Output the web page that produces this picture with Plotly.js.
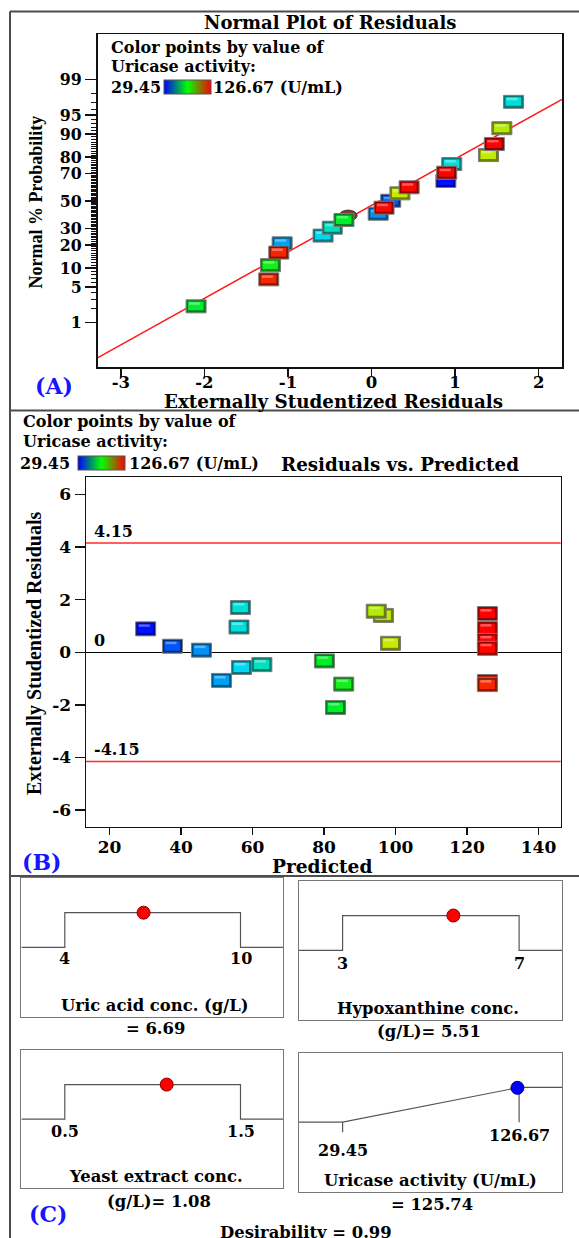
<!DOCTYPE html>
<html>
<head>
<meta charset="utf-8">
<script src="https://cdn.plot.ly/plotly-3.0.1.min.js"></script>
<style>html,body{margin:0;padding:0;background:#fff;}#chart{width:579px;height:1238px;}</style>
</head>
<body>
<div id="chart"></div>
<script>
// ---------------- DATA ----------------
// Runs (sorted by residual)
const predicted = [83.2, 125.7, 85.5, 125.7, 51.3, 56.9, 62.6, 80.1, 45.7, 125.7, 37.6, 98.6, 125.7, 30.1, 125.7, 56.2, 96.6, 125.7, 94.6, 56.6];
const residual  = [-2.10, -1.23, -1.21, -1.11, -1.07, -0.58, -0.47, -0.33, 0.08, 0.15, 0.23, 0.34, 0.45, 0.89, 0.90, 0.96, 1.40, 1.47, 1.56, 1.70];
const normProb  = [2.2, 6.7, 11.0, 16.2, 20.9, 25.4, 30.5, 35.8, 40.4, 44.9, 50.2, 55.8, 60.3, 64.9, 70.6, 76.0, 81.0, 86.2, 91.8, 97.1];
const activity  = [78.2, 122.1, 82.0, 122.4, 48.1, 55.1, 61.2, 79.1, 45.9, 126.1, 38.3, 99.6, 126.3, 29.45, 126.5, 57.8, 99.0, 126.67, 97.5, 58.5];
const actMin = 29.45, actMax = 126.67;
// extra circle marker in normal plot
const circleResid = [-0.28];
const circleProb  = [39];
// normal-plot reference line (residual, % probability)
const lineResid = [-3.28, 2.28];
const lineProb  = [0.135, 97.4];
// axis ticks
const probTicks  = [1, 5, 10, 20, 30, 50, 70, 80, 90, 95, 99];
const residTicks = [-3, -2, -1, 0, 1, 2];
const predTicks  = [20, 40, 60, 80, 100, 120, 140];
const studTicks  = [-6, -4, -2, 0, 2, 4, 6];
const limitVals   = [4.15, -4.15];
const limitLabels = ['4.15', '-4.15'];
// desirability panel
const factorNames = ['Uric acid conc. (g/L)', 'Hypoxanthine conc.', 'Yeast extract conc.'];
const factorValueText = ['= 6.69', '(g/L)= 5.51', '(g/L)= 1.08'];
const factorLow  = [4, 3, 0.5];
const factorHigh = [10, 7, 1.5];
const factorLowText  = ['4', '3', '0.5'];
const factorHighText = ['10', '7', '1.5'];
const factorOpt  = [6.69, 5.51, 1.08];
const respName = 'Uricase activity (U/mL)';
const respValueText = '= 125.74';
const respLow = 29.45, respHigh = 126.67, respOpt = 125.74, respDes = 0.99;
const desirabilityText = 'Desirability = 0.99';

// ---------------- HELPERS ----------------
const W = 579, H = 1238;
const X = v => v / W, Y = v => 1 - v / H;
function probit(p) {
  const a=[-3.969683028665376e+01,2.209460984245205e+02,-2.759285104469687e+02,1.383577518672690e+02,-3.066479806614716e+01,2.506628277459239e+00];
  const b=[-5.447609879822406e+01,1.615858368580409e+02,-1.556989798598866e+02,6.680131188771972e+01,-1.328068155288572e+01];
  const c=[-7.784894002430293e-03,-3.223964580411365e-01,-2.400758277161838e+00,-2.549732539343734e+00,4.374664141464968e+00,2.938163982698783e+00];
  const d=[7.784695709041462e-03,3.224671290700398e-01,2.445134137142996e+00,3.754408661907416e+00];
  const pl=0.02425, ph=1-pl; let q,r;
  if(p<pl){q=Math.sqrt(-2*Math.log(p));return (((((c[0]*q+c[1])*q+c[2])*q+c[3])*q+c[4])*q+c[5])/((((d[0]*q+d[1])*q+d[2])*q+d[3])*q+1);}
  if(p<=ph){q=p-0.5;r=q*q;return (((((a[0]*r+a[1])*r+a[2])*r+a[3])*r+a[4])*r+a[5])*q/(((((b[0]*r+b[1])*r+b[2])*r+b[3])*r+b[4])*r+1);}
  q=Math.sqrt(-2*Math.log(1-p));return -(((((c[0]*q+c[1])*q+c[2])*q+c[3])*q+c[4])*q+c[5])/((((d[0]*q+d[1])*q+d[2])*q+d[3])*q+1);
}
const pz = p => probit(p / 100);
const SERIF = '"DejaVu Serif", serif';
const TIMES = '"Liberation Serif", "Times New Roman", serif';
const BLUE = '#1515ff';
function f(size, color, fam) { return {family: fam || SERIF, size: size, color: color || '#000', weight: 'bold'}; }

// palette used for the lit 3D squares
const litScale = [[0,'#0010ff'],[0.27,'#00dcf0'],[0.52,'#00ee20'],[0.72,'#c8ea00'],[1,'#ff0000']];
const barScale = [[0,'#0000ff'],[0.5,'#00ff00'],[1,'#ff0000']];
function hex2rgb(h){h=h.replace('#','');return [parseInt(h.substr(0,2),16),parseInt(h.substr(2,2),16),parseInt(h.substr(4,2),16)];}
function rgbStr(c){return 'rgb('+c.map(v=>Math.max(0,Math.min(255,Math.round(v)))).join(',')+')';}
function colorAt(v){
  const t = Math.max(0, Math.min(1, (v - actMin) / (actMax - actMin)));
  for (let i = 1; i < litScale.length; i++) {
    if (t <= litScale[i][0]) {
      const t0 = litScale[i-1][0], t1 = litScale[i][0], u = (t - t0) / (t1 - t0);
      const c0 = hex2rgb(litScale[i-1][1]), c1 = hex2rgb(litScale[i][1]);
      return c0.map((v0, k) => v0 + (c1[k] - v0) * u);
    }
  }
  return hex2rgb(litScale[litScale.length-1][1]);
}
function shade(c, k){return c.map(v=>v*k);}
function lighten(c, k){return c.map(v=>v+(255-v)*k);}

function rectShapes(xref, yref, x, y, rgb, hw, hh) {
  const base = {type:'rect', xref:xref, yref:yref, xsizemode:'pixel', ysizemode:'pixel', xanchor:x, yanchor:y};
  return [
    Object.assign({}, base, {x0:-hw, x1:hw, y0:-hh, y1:hh, fillcolor:rgbStr(shade(rgb,0.55)), line:{color:'#7a7a7a', width:1}}),
    Object.assign({}, base, {x0:-hw+2, x1:hw-2.5, y0:-hh+2.5, y1:hh-2, fillcolor:rgbStr(rgb), line:{width:0}}),
    Object.assign({}, base, {x0:-hw+3, x1:hw-6, y0:hh-5, y1:hh-2.5, fillcolor:rgbStr(lighten(rgb,0.35)), line:{width:0}})
  ];
}

// drawing order: non-red first, then reds from high residual to low
const idx = residual.map((_, i) => i);
const nonRed = idx.filter(i => activity[i] < 110);
const reds = idx.filter(i => activity[i] >= 110).sort((a, b) => residual[b] - residual[a]);
const order = nonRed.concat(reds);

// ---------------- SHAPES ----------------
const shapes = [];
const frameColor = '#4d4d4d';
shapes.push({type:'line', xref:'paper', yref:'paper', x0:X(10), x1:X(579), y0:Y(11.5), y1:Y(11.5), line:{color:frameColor, width:2}});
shapes.push({type:'line', xref:'paper', yref:'paper', x0:X(10), x1:X(10), y0:Y(11.5), y1:Y(1238), line:{color:frameColor, width:2}});
shapes.push({type:'line', xref:'paper', yref:'paper', x0:X(10), x1:X(579), y0:Y(410.5), y1:Y(410.5), line:{color:frameColor, width:2}});
shapes.push({type:'line', xref:'paper', yref:'paper', x0:X(10), x1:X(579), y0:Y(876), y1:Y(876), line:{color:frameColor, width:2}});

// limit lines in B
limitVals.forEach(v => shapes.push({type:'line', xref:'x2 domain', yref:'y2', x0:0, x1:1, y0:v, y1:v, line:{color:'#ff2a2a', width:1.5}}));

// circle marker in A
circleResid.forEach((r, i) => {
  shapes.push({type:'circle', xref:'x', yref:'y', xsizemode:'pixel', ysizemode:'pixel', xanchor:r, yanchor:pz(circleProb[i]), x0:-9, x1:9, y0:-5.5, y1:5.5, fillcolor:'#7a3b3b', line:{color:'#5a2a2a', width:1}});
});
// squares in A and B
order.forEach(i => { rectShapes('x', 'y', residual[i], pz(normProb[i]), colorAt(activity[i]), 10, 6.5).forEach(s => shapes.push(s)); });
order.forEach(i => { rectShapes('x2', 'y2', predicted[i], residual[i], colorAt(activity[i]), 10, 7).forEach(s => shapes.push(s)); });

// ---------------- AXES ----------------
const axBase = {showgrid:false, zeroline:false, showline:true, linecolor:'#111', linewidth:1.5, mirror:true,
  ticks:'outside', tickcolor:'#111', tickwidth:1.5, tickfont:f(17), tickmode:'array', fixedrange:true};
const minorProbs = [];
for (let p = 1; p <= 99; p++) if (probTicks.indexOf(p) < 0) minorProbs.push(p);

const layout = {
  width: W, height: H, margin: {l:0, r:0, t:0, b:0, autoexpand:false},
  paper_bgcolor:'#fff', plot_bgcolor:'rgba(0,0,0,0)', showlegend:false,
  xaxis: Object.assign({}, axBase, {domain:[X(97.5), X(562)], range:[-3.28, 2.28], anchor:'y',
    tickvals:residTicks, ticktext:residTicks.map(String), ticklen:8, ticklabelstandoff:-8, tickfont:f(16.5)}),
  yaxis: Object.assign({}, axBase, {domain:[Y(367), Y(34)], range:[-3.174, 3.193], anchor:'x',
    tickvals:probTicks.map(pz), ticktext:probTicks.map(String), ticklen:11, tickfont:f(15.8),
    minor:{tickmode:'array', tickvals:minorProbs.map(pz), ticks:'outside', ticklen:5, tickcolor:'#111', tickwidth:1}}),
  xaxis2: Object.assign({}, axBase, {domain:[X(86), X(560.7)], range:[13.4, 146.2], anchor:'y2',
    tickvals:predTicks, ticktext:predTicks.map(String), ticklen:7, ticklabelstandoff:-3}),
  yaxis2: Object.assign({}, axBase, {domain:[Y(826.7), Y(477.3)], range:[-6.63, 6.65], anchor:'x2',
    tickvals:studTicks, ticktext:studTicks.map(String), ticklen:10,
    zeroline:true, zerolinecolor:'#000', zerolinewidth:1.5}),
  shapes: shapes,
  annotations: []
};

// desirability boxes
const boxes = [
  {x:[21.4, 283.2], y:[878, 1016.7]},
  {x:[299, 562], y:[880.7, 1020]},
  {x:[21.4, 283.2], y:[1050, 1188.3]},
  {x:[299, 562], y:[1052.7, 1191.7]}
];
const allLow = factorLow.concat([respLow]);
const allHigh = factorHigh.concat([respHigh]);
boxes.forEach((b, k) => {
  const n = k + 3;
  const span = allHigh[k] - allLow[k];
  layout['xaxis' + n] = {domain:[X(b.x[0]), X(b.x[1])], range:[allLow[k] - 0.247*span, allHigh[k] + 0.243*span], anchor:'y' + n,
    showgrid:false, zeroline:false, showline:true, mirror:true, linecolor:'#777', linewidth:1, ticks:'', showticklabels:false, fixedrange:true};
  layout['yaxis' + n] = {domain:[Y(b.y[1]), Y(b.y[0])], range:[-2, 2], anchor:'x' + n,
    showgrid:false, zeroline:false, showline:true, mirror:true, linecolor:'#777', linewidth:1, ticks:'', showticklabels:false, fixedrange:true};
});

// ---------------- TRACES ----------------
function cbar(x, y) {
  return {orientation:'h', lenmode:'pixels', len:47, thicknessmode:'pixels', thickness:14,
    x:X(x), xanchor:'left', y:Y(y), yanchor:'top', xpad:0, ypad:0,
    outlinewidth:1, outlinecolor:'#555', showticklabels:false, ticks:'', borderwidth:0, bgcolor:'rgba(0,0,0,0)'};
}
const traces = [];
traces.push({type:'scatter', mode:'lines', x:lineResid, y:lineProb.map(pz), xaxis:'x', yaxis:'y',
  line:{color:'#ff1a1a', width:1.5}, hoverinfo:'skip'});
traces.push({type:'scatter', mode:'markers', x:residual, y:normProb.map(pz), xaxis:'x', yaxis:'y',
  marker:{symbol:'square', size:8, color:activity, cmin:actMin, cmax:actMax, colorscale:barScale, showscale:true, colorbar:cbar(164, 80)}});
traces.push({type:'scatter', mode:'markers', x:predicted, y:residual, xaxis:'x2', yaxis:'y2',
  marker:{symbol:'square', size:8, color:activity, cmin:actMin, cmax:actMax, colorscale:barScale, showscale:true, colorbar:cbar(77.5, 456)}});

for (let k = 0; k < 3; k++) {
  const n = k + 3, xr = layout['xaxis' + n].range;
  traces.push({type:'scatter', mode:'lines', xaxis:'x' + n, yaxis:'y' + n,
    x:[xr[0], factorLow[k], factorLow[k], factorHigh[k], factorHigh[k], xr[1]], y:[0, 0, 1, 1, 0, 0],
    line:{color:'#555', width:1.2}, cliponaxis:false});
  traces.push({type:'scatter', mode:'markers', xaxis:'x' + n, yaxis:'y' + n, x:[factorOpt[k]], y:[1],
    marker:{size:13, color:'#ff0000', line:{color:'#8a0000', width:1}}, cliponaxis:false});
}
{
  const xr = layout.xaxis6.range;
  traces.push({type:'scatter', mode:'lines', xaxis:'x6', yaxis:'y6', x:[xr[0], respLow, respHigh, xr[1]], y:[0, 0, 1, 1],
    line:{color:'#555', width:1.2}, cliponaxis:false});
  traces.push({type:'scatter', mode:'lines', xaxis:'x6', yaxis:'y6', x:[respHigh, respHigh], y:[1, 0], line:{color:'#555', width:1.2}});
  traces.push({type:'scatter', mode:'lines', xaxis:'x6', yaxis:'y6', x:[respLow, respLow], y:[0, -0.29], line:{color:'#555', width:1.2}});
  traces.push({type:'scatter', mode:'markers', xaxis:'x6', yaxis:'y6', x:[respOpt], y:[respDes],
    marker:{size:13, color:'#0000ff', line:{color:'#000080', width:1}}, cliponaxis:false});
}

// ---------------- ANNOTATIONS ----------------
const A = layout.annotations;
function ann(text, x, y, o) {
  A.push(Object.assign({text:text, x:X(x), y:Y(y), xref:'paper', yref:'paper', showarrow:false,
    xanchor:'center', yanchor:'middle', font:f(16)}, o || {}));
}
// panel A
ann('Normal Plot of Residuals', 330, 22.5, {font:f(18)});
ann('Color points by value of', 109, 48, {xanchor:'left'});
ann('Uricase activity:', 109, 66.5, {xanchor:'left'});
ann(String(actMin), 163, 87.5, {xanchor:'right'});
ann(actMax + ' (U/mL)', 211, 87.5, {xanchor:'left'});
ann('Externally Studentized Residuals', 333, 401.5, {font:f(18.3), borderpad:0});
ann('(A)', 54, 386, {font:f(22, BLUE)});
ann('Normal % Probability', 35, 202.5, {textangle:-90, font:f(18, '#000', TIMES)});
// panel B
ann('Color points by value of', 21, 421, {xanchor:'left'});
ann('Uricase activity:', 21, 441, {xanchor:'left'});
ann(String(actMin), 72, 463, {xanchor:'right'});
ann(actMax + ' (U/mL)', 127, 463, {xanchor:'left'});
ann('Residuals vs. Predicted', 400, 465, {font:f(18.3)});
ann('Predicted', 322, 866, {font:f(18.6)});
ann('(B)', 41, 862, {font:f(22, BLUE)});
ann('Externally Studentized Residuals', 33.8, 653.3, {textangle:-90, font:f(20, '#000', TIMES)});
limitVals.forEach((v, i) => A.push({text:limitLabels[i], xref:'x2 domain', yref:'y2', x:0.012, y:v, xanchor:'left', yanchor:'bottom',
  showarrow:false, font:f(16)}));
A.push({text:'0', xref:'x2 domain', yref:'y2', x:0.012, y:0, xanchor:'left', yanchor:'bottom', showarrow:false, font:f(16)});
// panel C
const lowShift = [-11, -13.5, -12.7], highShift = [-11, -13.5, -12.7];
for (let k = 0; k < 3; k++) {
  const n = k + 3;
  A.push({text:factorLowText[k], xref:'x' + n, yref:'y' + n, x:factorLow[k], y:0, yshift:lowShift[k], yanchor:'middle', showarrow:false, font:f(16)});
  A.push({text:factorHighText[k], xref:'x' + n, yref:'y' + n, x:factorHigh[k], y:0, yshift:highShift[k], yanchor:'middle', showarrow:false, font:f(16)});
}
A.push({text:String(respLow), xref:'x6', yref:'y6', x:respLow, y:0, yshift:-28, yanchor:'middle', showarrow:false, font:f(16)});
A.push({text:String(respHigh), xref:'x6', yref:'y6', x:respHigh, y:0, yshift:-13, yanchor:'middle', showarrow:false, font:f(16)});
const cf = f(16.4);
ann(factorNames[0], 155, 1005, {font:cf});
ann(factorValueText[0], 155, 1028, {font:cf});
ann(factorNames[1], 427.5, 1008.3, {font:cf});
ann(factorValueText[1], 429, 1031, {font:cf});
ann(factorNames[2], 156, 1176.7, {font:cf});
ann(factorValueText[2], 159, 1201.7, {font:cf});
ann(respName, 430, 1180.7, {font:cf});
ann(respValueText, 432, 1204.3, {font:cf});
ann('(C)', 48, 1214, {font:f(22, BLUE)});
ann(desirabilityText, 305.6, 1232, {font:f(16.4)});

Plotly.newPlot('chart', traces, layout, {staticPlot:true, displayModeBar:false});
</script>
</body>
</html>
